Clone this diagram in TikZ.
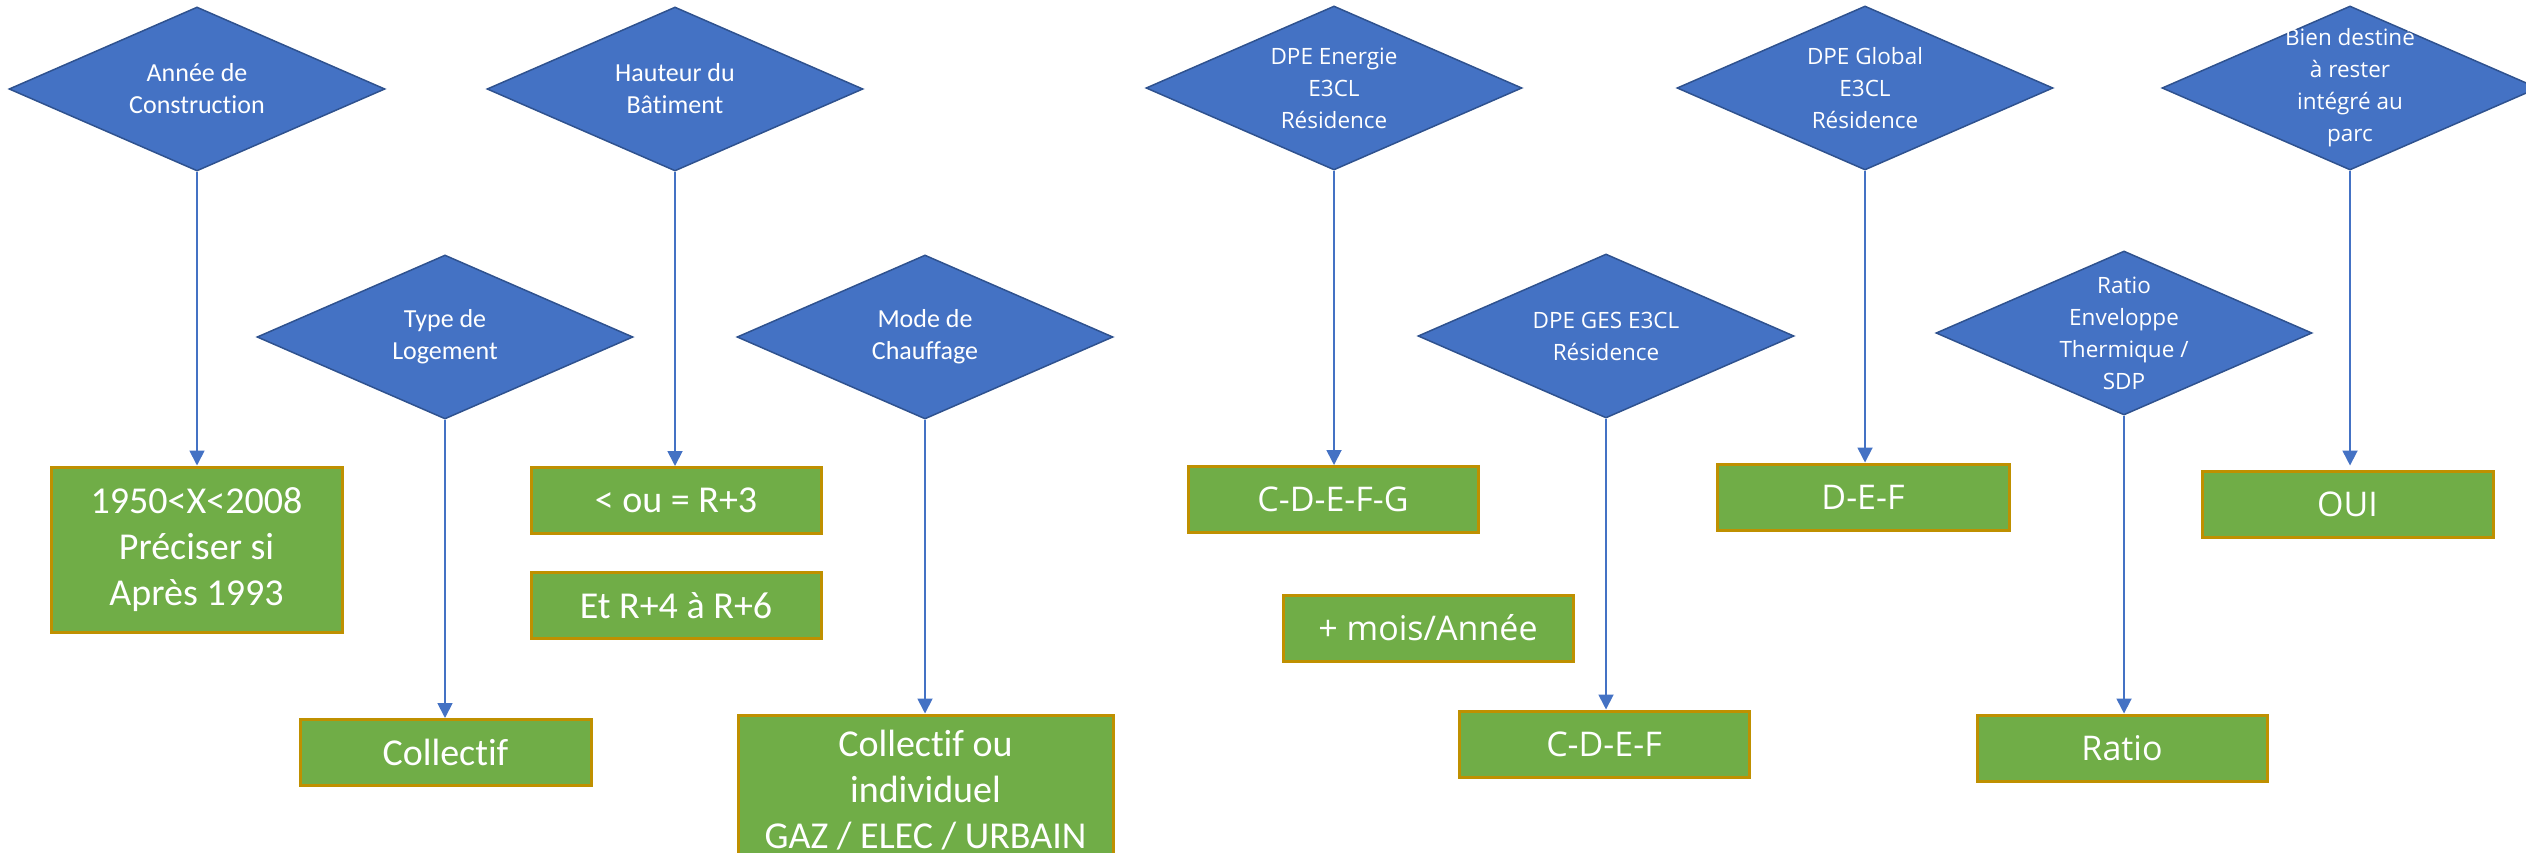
\documentclass[tikz,border=0pt]{standalone}
\usepackage{fontspec}
\setmainfont{Carlito}[Ligatures={NoCommon,NoRare,NoContextual}]
\newfontfamily\segoe{Open Sans}[Ligatures={NoCommon}]
\usetikzlibrary{shapes.geometric,arrows.meta}
\definecolor{dblue}{HTML}{4472C4}
\definecolor{dborder}{HTML}{2F528F}
\definecolor{bgreen}{HTML}{70AD47}
\definecolor{bgold}{HTML}{BF9000}
\begin{document}
\begin{tikzpicture}[x=1pt,y=-1pt,
  decision/.style={shape=diamond, draw=dborder, fill=dblue, line width=1.5pt,
    minimum width=376pt, minimum height=164pt, inner sep=0pt},
  ltxt/.style={text=white, align=center, inner sep=0pt, font=\fontsize{26pt}{32pt}\selectfont},
  rtxt/.style={text=white, align=center, inner sep=0pt, font=\segoe\fontsize{22.5pt}{32pt}\selectfont},
  result/.style={rectangle, draw=bgold, fill=bgreen, line width=3pt,
    minimum width=290pt, minimum height=66pt, inner sep=0pt, text=white, align=center},
  lres/.style={result, font=\fontsize{38pt}{46pt}\selectfont},
  rres/.style={result, font=\segoe\fontsize{34pt}{40pt}\selectfont},
  flow/.style={draw=dblue, line width=1.8pt, -{Triangle[width=15pt,length=15pt]}}
]
\useasboundingbox (0,0) rectangle (2526,853);
\clip (0,0) rectangle (2526,853);

% decisions
\node[decision] (dAnnee) at (197,89) {};
\node[ltxt] (tAnnee) at (dAnnee) {Année de\\Construction};
\node[decision] (dHaut) at (675,89) {};
\node[ltxt] (tHaut) at (dHaut) {Hauteur du\\Bâtiment};
\node[decision] (dType) at (445,337) {};
\node[ltxt] (tType) at (dType) {Type de\\Logement};
\node[decision] (dMode) at (925,337) {};
\node[ltxt] (tMode) at (dMode) {Mode de\\Chauffage};
\node[decision] (dEner) at (1334,88) {};
\node[rtxt] (tEner) at (dEner) {DPE Energie\\E3CL\\Résidence};
\node[decision] (dGes) at (1606,336) {};
\node[rtxt] (tGes) at (dGes) {DPE GES E3CL\\Résidence};
\node[decision] (dGlob) at (1865,88) {};
\node[rtxt] (tGlob) at (dGlob) {DPE Global\\E3CL\\Résidence};
\node[decision] (dBien) at (2350,88) {};
\node[rtxt] (tBien) at (dBien) {Bien destiné\\à rester\\intégré au\\parc};
\node[decision] (dRatio) at (2124,333) {};
\node[rtxt] (tRatio) at (dRatio) {Ratio\\Enveloppe\\Thermique /\\SDP};

% results
\node[lres, minimum width=291pt, minimum height=165pt] (rAnnee) at (196.5,549.5) {1950<X<2008\\Préciser si\\Après 1993};
\node[lres, minimum width=291pt] (rColl) at (445.5,752.5) {Collectif};
\node[lres] (rR3) at (676,500.5) {< ou = R+3};
\node[lres] (rR6) at (676,605.5) {Et R+4 à R+6};
\node[lres, minimum width=375pt, minimum height=150pt] (rChauf) at (925.5,790) {Collectif ou\\individuel\\GAZ / ELEC / URBAIN};
\node[rres] (rCDEFG) at (1333,499.5) {C-D-E-F-G};
\node[rres] (rMois) at (1428,628) {+ mois/Année};
\node[rres] (rCDEF) at (1604,744) {C-D-E-F};
\node[rres, minimum width=292pt] (rDEF) at (1863,497) {D-E-F};
\node[rres] (rRatio) at (2122,748) {Ratio};
\node[rres, minimum width=291pt] (rOui) at (2347.5,504) {OUI};

% connectors
\draw[flow] (dAnnee.south) -- (dAnnee.south |- rAnnee.north);
\draw[flow] (dType.south) -- (dType.south |- rColl.north);
\draw[flow] (dHaut.south) -- (dHaut.south |- rR3.north);
\draw[flow] (dMode.south) -- (dMode.south |- rChauf.north);
\draw[flow] (dEner.south) -- (dEner.south |- rCDEFG.north);
\draw[flow] (dGes.south) -- (dGes.south |- rCDEF.north);
\draw[flow] (dGlob.south) -- (dGlob.south |- rDEF.north);
\draw[flow] (dRatio.south) -- (dRatio.south |- rRatio.north);
\draw[flow, shorten >=4pt] (dBien.south) -- (dBien.south |- rOui.north);
\end{tikzpicture}
\end{document}
